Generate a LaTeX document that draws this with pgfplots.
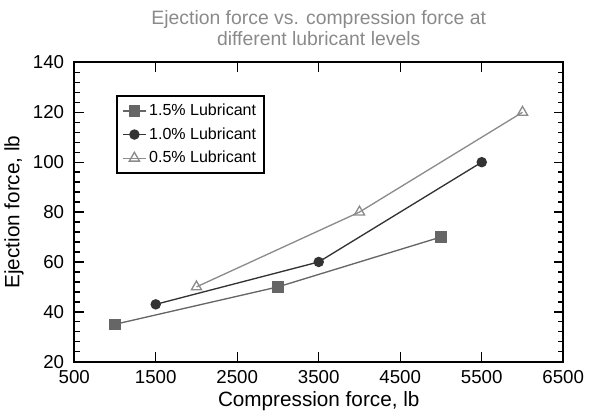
\documentclass[border=0pt]{standalone}
\usepackage{pgfplots}
\pgfplotsset{compat=1.18}
\usepackage{fontspec}
\setmainfont{Liberation Sans}
\definecolor{titlegray}{HTML}{8A8A8A}
\definecolor{sqgray}{HTML}{666666}
\definecolor{dotgray}{HTML}{333333}
\definecolor{trigray}{HTML}{8C8C8C}
\begin{document}
\begin{tikzpicture}
  \begin{axis}[
    scale only axis,
    width=366pt, height=224pt,
    xmin=500, xmax=6500, ymin=20, ymax=140,
    xtick={500,1500,...,6500},
    ytick={20,40,...,140},
    minor y tick num=4,
    tick align=inside,
    tick style={black, line width=1pt},
    major tick length=7pt, minor tick length=4pt,
    axis line style={line width=1.5pt},
    /pgf/number format/assume math mode=true,
    /pgf/number format/1000 sep={},
    tick label style={font=\fontsize{14}{16}\selectfont},
    yticklabel style={xshift=-4pt},
    xticklabel style={yshift=-3pt},
    xlabel={Compression force, lb},
    ylabel={Ejection force, lb},
    xlabel style={yshift=1pt},
    label style={font=\fontsize{15.5}{18}\selectfont},
    title={Ejection force vs. compression force at\\different lubricant levels},
    title style={name=ttl, font=\fontsize{14.5}{16}\selectfont, text=titlegray, align=center, yshift=3pt},
    legend style={at={(0.086,0.89)}, anchor=north west, draw=black, line width=1.1pt,
      font=\fontsize{12}{14}\selectfont, row sep=3.5pt, inner sep=4pt},
    legend cell align=left,
    legend image code/.code={
      \draw[line width=1pt, mark repeat=2,mark phase=2] plot coordinates {(0cm,0cm) (0.3cm,0cm) (0.6cm,0cm)};},
  ]
  \addplot[sqgray, line width=1pt, mark=square*, mark size=3.8pt]
    coordinates {(1000,35) (3000,50) (5000,70)};
  \addlegendentry{1.5\% Lubricant}
  \addplot[dotgray, line width=1pt, mark=*, mark size=3.4pt]
    coordinates {(1500,43) (3500,60) (5500,100)};
  \addlegendentry{1.0\% Lubricant}
  \addplot[trigray, line width=1pt, mark=triangle, mark size=4.4pt, mark options={fill=white}]
    coordinates {(2000,50) (4000,80) (6000,120)};
  \addlegendentry{0.5\% Lubricant}
  \end{axis}
  \path ([xshift=35pt]current axis.east);
  \path ([yshift=4pt]ttl.north);
\end{tikzpicture}
\end{document}
